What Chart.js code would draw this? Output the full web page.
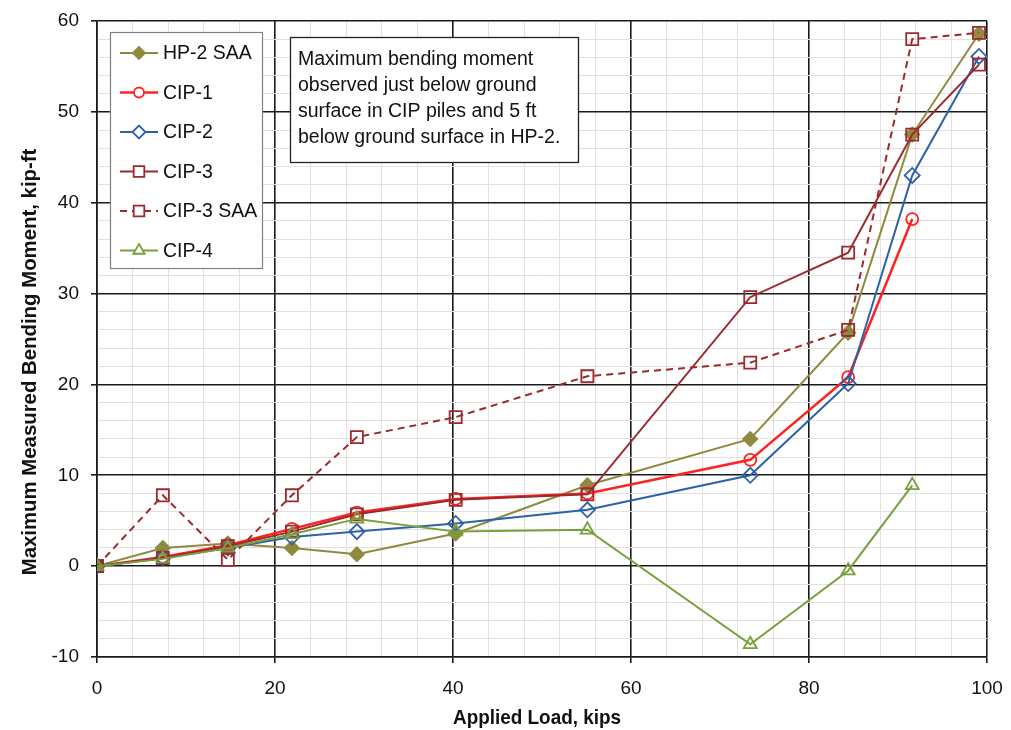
<!DOCTYPE html>
<html>
<head>
<meta charset="utf-8">
<title>Bending moment vs applied load</title>
<script src="https://cdn.jsdelivr.net/npm/chart.js@4.4.1/dist/chart.umd.min.js"></script>
<style>
    body { margin: 0; background: #fff; }
    #wrap { width: 1011px; height: 730px; }
</style>
</head>
<body>
<div id="wrap"><canvas id="momentChart" width="1011" height="730"></canvas></div>
<script>
// applied load for each load step, kips
const loads = [0, 7.4, 14.7, 21.9, 29.2, 40.3, 55.1, 73.4, 84.4, 91.6, 99.1];

// max measured bending moment, kip-ft (null = no reading at that step)
const hp2Saa  = [0, 2.0, 2.5, 2.0, 1.3, 3.6, 8.9, 14.0, 25.7, 47.5, 58.6];
const cip1    = [0, 1.0, 2.3, 4.1, 5.9, 7.4, 8.0, 11.7, 20.8, 38.2, null];
const cip2    = [0, 0.9, 2.0, 3.2, 3.8, 4.7, 6.2, 10.0, 20.1, 43.0, 56.1];
const cip3    = [0, 0.9, 2.2, 3.8, 5.7, 7.3, 7.9, 29.6, 34.5, 47.5, 55.2];
const cip3Saa = [0, 7.8, 0.7, 7.8, 14.2, 16.4, 20.9, 22.4, 26.0, 58.0, 58.7];
const cip4    = [0, 0.8, 2.0, 3.5, 5.2, 3.8, 4.0, -8.6, -0.5, 8.9, null];

const seriesNames = ['HP-2 SAA', 'CIP-1', 'CIP-2', 'CIP-3', 'CIP-3 SAA', 'CIP-4'];

const xTicks = [0, 20, 40, 60, 80, 100];
const yTicks = [-10, 0, 10, 20, 30, 40, 50, 60];

const noteLines = [
    'Maximum bending moment',
    'observed just below ground',
    'surface in CIP piles and 5 ft',
    'below ground surface in HP-2.'
];

const sans = '"Liberation Sans", Arial, sans-serif';
const tickFont = { family: sans, size: 19 };

function toPoints(values) {
    const pts = [];
    values.forEach((v, i) => {
        if (v !== null) pts.push({ x: loads[i], y: v });
    });
    return pts;
}

const styles = [
    { color: '#8e8a3e', point: 'rectRot', radius: 7, filled: true },
    { color: '#ff2222', point: 'circle', radius: 6, filled: false, width: 2.5 },
    { color: '#2d62aa', point: 'rectRot', radius: 7.5, filled: false },
    { color: '#9a2a2e', point: 'rect', radius: 8.5, filled: false },
    { color: '#9a2a2e', point: 'rect', radius: 8.5, filled: false, dash: [7, 5] },
    { color: '#78a03c', point: 'triangle', radius: 7.5, filled: false }
];

const allValues = [hp2Saa, cip1, cip2, cip3, cip3Saa, cip4];

const datasets = allValues.map((vals, i) => {
    const s = styles[i];
    return {
        label: seriesNames[i],
        data: toPoints(vals),
        borderColor: s.color,
        borderWidth: s.width || 2,
        borderDash: s.dash || [],
        pointStyle: s.point,
        pointRadius: s.radius,
        pointBorderWidth: 1.8,
        pointBorderColor: s.color,
        pointBackgroundColor: s.filled ? s.color : 'rgba(0,0,0,0)',
        tension: 0,
        fill: false,
        // later series sit on top
        order: allValues.length - 1 - i
    };
});

// condensed bold text: squeeze a regular bold face horizontally
function narrowText(ctx, text, x, y, angle, squeeze) {
    ctx.save();
    ctx.translate(x, y);
    ctx.rotate(angle);
    ctx.scale(squeeze, 1);
    ctx.font = 'bold 21px ' + sans;
    ctx.textAlign = 'center';
    ctx.textBaseline = 'middle';
    ctx.fillStyle = '#111';
    ctx.fillText(text, 0, 0);
    ctx.restore();
}

// legend box, note box and axis titles
const extras = {
    id: 'extras',
    afterDraw(chart) {
        const ctx = chart.ctx;
        ctx.save();

        // legend
        const lx = 110, ly = 32, lw = 152, lh = 236;
        ctx.fillStyle = '#fff';
        ctx.fillRect(lx, ly, lw, lh);
        ctx.strokeStyle = '#808080';
        ctx.lineWidth = 1.2;
        ctx.strokeRect(lx + 0.5, ly + 0.5, lw, lh);

        chart.data.datasets.forEach((ds, i) => {
            const y = 53 + i * 39.5;
            ctx.strokeStyle = ds.borderColor;
            ctx.lineWidth = ds.borderWidth;
            ctx.setLineDash(ds.borderDash);
            ctx.beginPath();
            ctx.moveTo(120, y);
            ctx.lineTo(158, y);
            ctx.stroke();
            ctx.setLineDash([]);
            ctx.fillStyle = ds.pointBackgroundColor === 'rgba(0,0,0,0)' ? '#fff' : ds.pointBackgroundColor;
            ctx.lineWidth = ds.pointBorderWidth;
            Chart.helpers.drawPoint(ctx, {
                pointStyle: ds.pointStyle,
                radius: ds.pointRadius - 1,
                rotation: 0,
                borderWidth: ds.pointBorderWidth
            }, 139, y);
            ctx.fillStyle = '#111';
            ctx.font = '19.5px ' + sans;
            ctx.textBaseline = 'middle';
            ctx.textAlign = 'left';
            ctx.fillText(ds.label, 163, y + 1);
        });

        // note
        const nx = 290, ny = 37, nw = 288, nh = 125;
        ctx.fillStyle = '#fff';
        ctx.fillRect(nx, ny, nw, nh);
        ctx.strokeStyle = '#222';
        ctx.lineWidth = 1.3;
        ctx.strokeRect(nx + 0.5, ny + 0.5, nw, nh);
        ctx.fillStyle = '#111';
        ctx.font = '19.5px ' + sans;
        ctx.textBaseline = 'middle';
        noteLines.forEach((t, i) => {
            ctx.fillText(t, 298, 60 + i * 25.8);
        });
        ctx.restore();

        // axis titles
        narrowText(ctx, 'Applied Load, kips', 537, 718, 0, 0.9);
        narrowText(ctx, 'Maximum Measured Bending Moment, kip-ft', 30, 362, -Math.PI / 2, 0.97);
    }
};

function gridColor(major) {
    return ctx => (ctx.tick && ctx.tick.value % major === 0) ? '#1a1a1a' : '#e6dfdf';
}
function gridWidth(major) {
    return ctx => (ctx.tick && ctx.tick.value % major === 0) ? 1.6 : 1;
}
function tickColor(major) {
    return ctx => (ctx.tick && ctx.tick.value % major === 0) ? '#1a1a1a' : 'rgba(0,0,0,0)';
}

const chart = new Chart(document.getElementById('momentChart'), {
    type: 'line',
    data: { datasets: datasets },
    options: {
        responsive: false,
        animation: false,
        events: [],
        layout: { padding: { top: 21, right: 24, left: 0, bottom: 0 } },
        plugins: {
            legend: { display: false },
            tooltip: { enabled: false }
        },
        scales: {
            x: {
                type: 'linear',
                min: 0,
                max: 100,
                afterFit: scale => {
                    scale.height = 73;
                    scale.paddingLeft = 0;
                    scale.paddingRight = 0;
                },
                border: { color: '#1a1a1a', width: 1.6 },
                grid: {
                    color: gridColor(20),
                    lineWidth: gridWidth(20),
                    tickColor: tickColor(20),
                    tickLength: 6,
                    tickWidth: 1.6
                },
                ticks: {
                    stepSize: 4,
                    autoSkip: false,
                    maxRotation: 0,
                    padding: 14,
                    color: '#111',
                    font: tickFont,
                    callback: v => xTicks.includes(v) ? String(v) : ''
                }
            },
            y: {
                type: 'linear',
                min: -10,
                max: 60,
                afterFit: scale => {
                    scale.width = 97;
                    scale.paddingTop = 0;
                    scale.paddingBottom = 0;
                },
                border: { color: '#1a1a1a', width: 1.6 },
                grid: {
                    color: gridColor(10),
                    lineWidth: gridWidth(10),
                    tickColor: tickColor(10),
                    tickLength: 6,
                    tickWidth: 1.6
                },
                ticks: {
                    stepSize: 2,
                    autoSkip: false,
                    padding: 12,
                    color: '#111',
                    font: tickFont,
                    callback: v => yTicks.includes(v) ? String(v) : ''
                }
            }
        }
    },
    plugins: [extras]
});
</script>
</body>
</html>
